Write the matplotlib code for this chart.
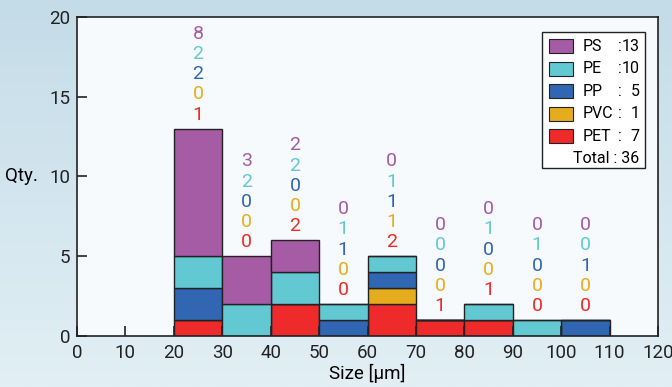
import numpy as np
import matplotlib
matplotlib.use("Agg")
import matplotlib.pyplot as plt
from matplotlib.patches import Rectangle

plt.rcParams['font.family'] = ['Roboto', 'DejaVu Sans']

# bins of particle size [um]
bin_left = [20, 30, 40, 50, 60, 70, 80, 90, 100]
bin_width = 10

# counts per bin, stacked bottom -> top
polymers = ["PET", "PVC", "PP", "PE", "PS"]
pet = [1, 0, 2, 0, 2, 1, 1, 0, 0]
pvc = [0, 0, 0, 0, 1, 0, 0, 0, 0]
pp = [2, 0, 0, 1, 1, 0, 0, 0, 1]
pe = [2, 2, 2, 1, 1, 0, 1, 1, 0]
ps = [8, 3, 2, 0, 0, 0, 0, 0, 0]

colors = {"PS": "#a65ba5", "PE": "#62c9d3", "PP": "#3166b2",
          "PVC": "#e5ad1d", "PET": "#ee2a2a"}
counts = {"PET": pet, "PVC": pvc, "PP": pp, "PE": pe, "PS": ps}

fig = plt.figure(figsize=(6.72, 3.87), dpi=100)

# light blue background
bg = fig.add_axes([0, 0, 1, 1], zorder=-10)
grad = np.linspace(0, 1, 200)[:, None] * np.ones((1, 200))
bg.imshow(grad, cmap=matplotlib.colors.LinearSegmentedColormap.from_list(
    "bgc", ["#c4dce8", "#e2eff5"]), aspect="auto", extent=[0, 1, 0, 1])
bg.axis("off")

ax = fig.add_axes([0.1146, 0.1318, 0.8646, 0.8243])
ax.set_facecolor("#f6fafc")

bottom = np.zeros(len(bin_left))
for name in polymers:
    vals = np.array(counts[name])
    ax.bar(bin_left, vals, width=bin_width, bottom=bottom, align="edge",
           color=colors[name], edgecolor="#222222", linewidth=1.0)
    bottom += vals

# count labels above each bar (PET nearest to bar, PS on top)
for i, x in enumerate(bin_left):
    for k, name in enumerate(polymers):
        ax.annotate(str(counts[name][i]), (x + bin_width / 2, bottom[i]),
                    xytext=(0, 10 + 14.6 * k), textcoords="offset points",
                    ha="center", va="center", fontsize=14, color=colors[name])

ax.set_xlim(0, 120)
ax.set_ylim(0, 20)
ax.set_xticks(range(0, 121, 10))
ax.set_yticks([0, 5, 10, 15, 20])
ax.tick_params(direction="in", length=7, width=1.2, labelsize=13.5,
               colors="#222222")
ax.tick_params(axis="x", pad=6)
ax.tick_params(axis="y", pad=5)
for sp in ax.spines.values():
    sp.set_color("#222222")
    sp.set_linewidth(1.2)
ax.set_xlabel("Size [μm]", fontsize=13.5, labelpad=1)
ax.set_ylabel("Qty.", fontsize=13.5, rotation=0, labelpad=20, va="center")

# legend box
lx0, ly0, lx1, ly1 = 0.800, 0.527, 0.978, 0.953
ax.add_patch(Rectangle((lx0, ly0), lx1 - lx0, ly1 - ly0, transform=ax.transAxes,
                       facecolor="white", edgecolor="#222222", lw=1.0, zorder=5))
row_h = 0.0705
for k, name in enumerate(polymers[::-1]):
    yc = 0.908 - k * row_h
    ax.add_patch(Rectangle((0.812, yc - 0.022), 0.041, 0.044, transform=ax.transAxes,
                           facecolor=colors[name], edgecolor="#222222", lw=0.8, zorder=6))
    ax.text(0.870, yc, name, transform=ax.transAxes, ha="left", va="center",
            fontsize=11.5, zorder=7)
    ax.text(0.931, yc, ":", transform=ax.transAxes, ha="left", va="center",
            fontsize=11.5, zorder=7)
    ax.text(0.968, yc, str(sum(counts[name])), transform=ax.transAxes, ha="right",
            va="center", fontsize=11.5, zorder=7)
total = sum(sum(v) for v in counts.values())
ax.text(0.968, 0.908 - 5 * row_h, "Total : %d" % total, transform=ax.transAxes,
        ha="right", va="center", fontsize=11.5, zorder=7)

fig.savefig("out.png", dpi=100)
